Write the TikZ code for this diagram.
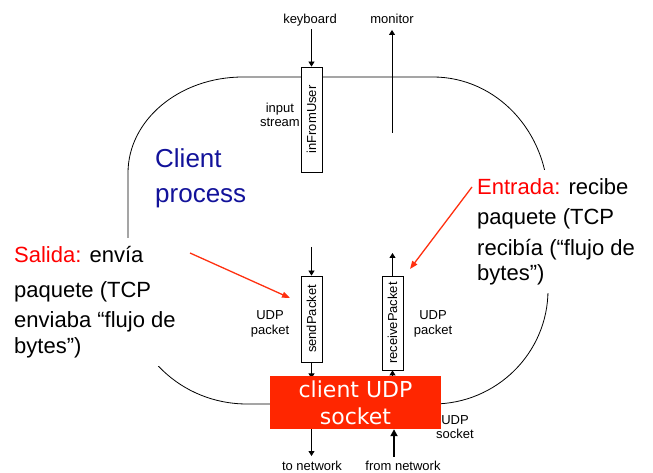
\documentclass[tikz,border=0pt]{standalone}
\usepackage{fontspec}
\setmainfont{Liberation Sans}
\newfontfamily\sockfont{DejaVu Sans}
\usetikzlibrary{arrows.meta,calc}
\definecolor{procblue}{HTML}{12129A}
\definecolor{sockred}{HTML}{FF2600}
\definecolor{callred}{HTML}{FF3010}
\definecolor{labred}{HTML}{FF0000}

\begin{document}
\begin{tikzpicture}[x=1pt,y=1pt,
  small/.style={font=\fontsize{13}{14.5}\selectfont,align=center,inner sep=0pt},
  big/.style={font=\fontsize{22}{26}\selectfont,align=left,fill=white,inner xsep=4pt,inner ysep=8pt},
  stream/.style={draw,fill=white,line width=.8pt,minimum width=21pt,inner sep=0pt,font=\fontsize{13}{13}\selectfont},
  flow/.style={line width=.8pt,-{Triangle[length=5pt,width=6pt]}},
  callout/.style={callred,line width=1.3pt,-{Triangle[length=8pt,width=6pt]}}]
\useasboundingbox (0,0) rectangle (653,473);
% client process outline
\draw[line width=.8pt] (247,69) arc[start angle=270,end angle=180,x radius=119,y radius=114]
  -- (128,300) arc[start angle=180,end angle=90,x radius=115,y radius=96]
  -- (433,396) arc[start angle=90,end angle=0,x radius=115,y radius=123]
  -- (548,183) arc[start angle=0,end angle=-90,x radius=115,y radius=114] -- cycle;

\node[font=\fontsize{26}{35}\selectfont,text=procblue,align=left,anchor=north west,inner sep=0pt] (client) at (155,325) {Client\\process};

% streams
\node[stream,minimum height=105pt] (infrom) at (311.5,353.5) {\rotatebox{90}{inFromUser}};
\node[stream,minimum height=86pt] (send) at (311.5,154) {\rotatebox{90}{sendPacket}};
\node[stream,minimum height=94pt] (recv) at (392.5,150) {\rotatebox{90}{receivePacket}};

\node[small] (kbd) at (310,453) {keyboard};
\node[small] (mon) at (392,454) {monitor};
\node[small,anchor=east] (instream) at (300,358) {input\\stream};
\node[small] (udpl) at (270,149) {UDP\\packet};
\node[small] (udpr) at (433,149) {UDP\\packet};
\node[small] (tonet) at (312,7) {to network};
\node[small] (fromnet) at (403,7) {from network};

\coordinate (monfrom) at (392,340);
\coordinate (sendin) at (311.5,226);
\coordinate (recvout) at (392.5,220);

\draw[flow,shorten <=3pt] (kbd.south -| infrom.north) -- (infrom.north);
\draw[flow,shorten >=6pt] (monfrom) -- (mon.south);
\draw[flow] (sendin) -- (send.north);
\draw[flow] (recv.north) -- (recvout);

% socket
\draw[flow] (send.south) -- ++(0,-16);
\draw[flow] (recv.south |- 0,96) -- (recv.south);
\node[fill=sockred,minimum width=171pt,minimum height=53pt,inner sep=0pt,text=white,
  font=\sockfont\fontsize{22}{27}\selectfont,align=center] (sock) at (355.5,70.5) {client UDP\\socket};
\draw[flow,shorten >=5pt] (sock.south -| send.south) -- (tonet.north -| send.south);
\draw[line width=2pt,-{Triangle[length=7pt,width=7pt]}] (394,16) -- (sock.south -| 394,0);
\node[small] (udpsock) at (455,46) {UDP\\socket};

% callouts
\node[big,anchor=north west] (salida) at (10,235) {\textcolor{labred}{Salida:} envía\\[9pt]paquete (TCP\\[4pt]enviaba “flujo de\\bytes”)};
\node[big,anchor=north west,font=\fontsize{22}{25}\selectfont] (entrada) at (473,303) {\textcolor{labred}{Entrada:} recibe\\[5pt]paquete (TCP\\[6pt]recibía (“flujo de\\bytes”)};

\coordinate (salidafrom) at (190,220);
\coordinate (salidatip) at (290,175);
\coordinate (entradafrom) at (472,286);
\coordinate (entradatip) at (410,204);
\draw[callout] (salidafrom) -- (salidatip);
\draw[callout] (entradafrom) -- (entradatip);
\end{tikzpicture}
\end{document}
